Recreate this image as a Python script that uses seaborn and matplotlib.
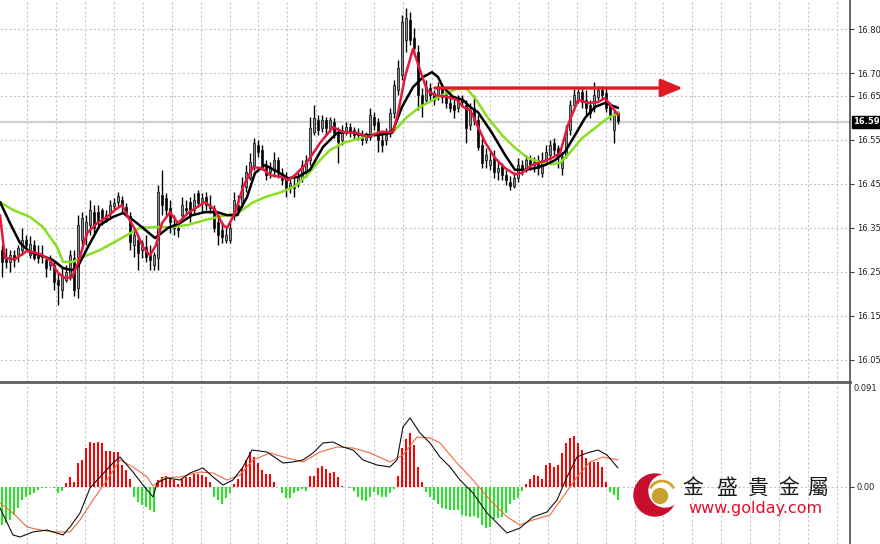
import numpy as np
import matplotlib
matplotlib.use('Agg')
import matplotlib.pyplot as plt
import matplotlib.transforms as mtransforms
from matplotlib.patches import Circle, Arc
import seaborn as sns

sns.set_style('white')
plt.rcParams['font.family'] = ['DejaVu Sans']

# ---- price bars (one per bar, oldest first) ----
opens = [16.299, 16.281, 16.272, 16.287, 16.287, 16.299, 16.322, 16.287, 16.310, 16.285,
         16.283, 16.276, 16.265, 16.265, 16.231, 16.208, 16.231, 16.242, 16.281, 16.213,
         16.322, 16.333, 16.356, 16.385, 16.385, 16.390, 16.378, 16.385, 16.399, 16.408,
         16.412, 16.397, 16.376, 16.310, 16.322, 16.299, 16.306, 16.287, 16.265, 16.281,
         16.424, 16.417, 16.394, 16.356, 16.349, 16.378, 16.394, 16.408, 16.390, 16.428,
         16.406, 16.419, 16.401, 16.394, 16.362, 16.344, 16.322, 16.322, 16.378, 16.401,
         16.406, 16.442, 16.462, 16.492, 16.537, 16.526, 16.492, 16.476, 16.481, 16.503,
         16.474, 16.462, 16.440, 16.447, 16.451, 16.462, 16.476, 16.503, 16.567, 16.594,
         16.576, 16.594, 16.576, 16.590, 16.567, 16.549, 16.567, 16.578, 16.572, 16.560,
         16.560, 16.549, 16.556, 16.601, 16.590, 16.549, 16.549, 16.572, 16.610, 16.662,
         16.697, 16.776, 16.822, 16.781, 16.749, 16.651, 16.640, 16.667, 16.656, 16.647,
         16.667, 16.651, 16.633, 16.628, 16.622, 16.640, 16.628, 16.583, 16.622, 16.594,
         16.537, 16.503, 16.492, 16.508, 16.476, 16.490, 16.469, 16.453, 16.444, 16.462,
         16.492, 16.481, 16.503, 16.492, 16.503, 16.474, 16.497, 16.515, 16.542, 16.531,
         16.485, 16.515, 16.572, 16.628, 16.640, 16.658, 16.640, 16.628, 16.622, 16.647,
         16.662, 16.656, 16.628, 16.572, 16.610]
highs = [16.310, 16.303, 16.299, 16.299, 16.310, 16.349, 16.333, 16.331, 16.322, 16.310,
         16.310, 16.283, 16.287, 16.272, 16.249, 16.258, 16.265, 16.299, 16.299, 16.378,
         16.385, 16.378, 16.412, 16.401, 16.401, 16.394, 16.390, 16.412, 16.417, 16.431,
         16.422, 16.406, 16.385, 16.351, 16.328, 16.322, 16.333, 16.310, 16.294, 16.447,
         16.481, 16.428, 16.412, 16.378, 16.362, 16.419, 16.412, 16.419, 16.428, 16.435,
         16.428, 16.431, 16.424, 16.401, 16.372, 16.362, 16.349, 16.362, 16.431, 16.424,
         16.465, 16.492, 16.519, 16.553, 16.549, 16.537, 16.503, 16.499, 16.522, 16.510,
         16.485, 16.476, 16.462, 16.465, 16.481, 16.503, 16.515, 16.601, 16.628, 16.606,
         16.606, 16.601, 16.601, 16.599, 16.578, 16.583, 16.590, 16.587, 16.578, 16.576,
         16.572, 16.567, 16.622, 16.612, 16.599, 16.572, 16.576, 16.622, 16.685, 16.731,
         16.833, 16.849, 16.840, 16.803, 16.765, 16.667, 16.685, 16.678, 16.662, 16.681,
         16.674, 16.662, 16.651, 16.647, 16.651, 16.651, 16.640, 16.633, 16.651, 16.606,
         16.553, 16.531, 16.526, 16.526, 16.503, 16.497, 16.481, 16.467, 16.476, 16.508,
         16.503, 16.515, 16.515, 16.510, 16.515, 16.522, 16.537, 16.549, 16.553, 16.537,
         16.522, 16.583, 16.640, 16.665, 16.665, 16.667, 16.662, 16.640, 16.681, 16.672,
         16.672, 16.667, 16.635, 16.617, 16.615]
lows = [16.237, 16.258, 16.249, 16.260, 16.272, 16.287, 16.299, 16.281, 16.276, 16.269,
        16.269, 16.237, 16.253, 16.208, 16.174, 16.190, 16.226, 16.231, 16.194, 16.190,
        16.299, 16.310, 16.333, 16.333, 16.356, 16.356, 16.362, 16.374, 16.390, 16.397,
        16.383, 16.374, 16.299, 16.283, 16.253, 16.281, 16.272, 16.253, 16.253, 16.253,
        16.378, 16.374, 16.337, 16.333, 16.328, 16.372, 16.378, 16.362, 16.383, 16.397,
        16.383, 16.390, 16.383, 16.340, 16.310, 16.315, 16.315, 16.315, 16.367, 16.378,
        16.397, 16.431, 16.458, 16.481, 16.510, 16.481, 16.458, 16.462, 16.465, 16.462,
        16.447, 16.419, 16.428, 16.419, 16.442, 16.453, 16.465, 16.492, 16.560, 16.560,
        16.567, 16.560, 16.567, 16.553, 16.497, 16.537, 16.560, 16.556, 16.549, 16.549,
        16.537, 16.542, 16.549, 16.572, 16.522, 16.522, 16.537, 16.556, 16.599, 16.651,
        16.685, 16.749, 16.765, 16.742, 16.617, 16.601, 16.633, 16.640, 16.628, 16.640,
        16.633, 16.622, 16.612, 16.599, 16.612, 16.624, 16.542, 16.572, 16.583, 16.526,
        16.485, 16.485, 16.481, 16.462, 16.458, 16.458, 16.447, 16.435, 16.440, 16.453,
        16.469, 16.476, 16.481, 16.476, 16.469, 16.465, 16.492, 16.503, 16.515, 16.485,
        16.469, 16.508, 16.560, 16.617, 16.633, 16.622, 16.606, 16.599, 16.612, 16.640,
        16.640, 16.612, 16.594, 16.542, 16.585]
closes = [16.272, 16.272, 16.287, 16.276, 16.303, 16.322, 16.310, 16.312, 16.281, 16.281,
          16.287, 16.258, 16.272, 16.226, 16.219, 16.242, 16.249, 16.287, 16.208, 16.356,
          16.372, 16.362, 16.390, 16.349, 16.362, 16.372, 16.367, 16.401, 16.406, 16.422,
          16.399, 16.378, 16.317, 16.333, 16.292, 16.315, 16.283, 16.276, 16.287, 16.431,
          16.401, 16.390, 16.362, 16.349, 16.344, 16.401, 16.390, 16.378, 16.412, 16.406,
          16.417, 16.401, 16.394, 16.349, 16.333, 16.328, 16.333, 16.349, 16.412, 16.390,
          16.447, 16.476, 16.499, 16.542, 16.522, 16.492, 16.469, 16.485, 16.503, 16.476,
          16.458, 16.440, 16.451, 16.440, 16.467, 16.492, 16.503, 16.576, 16.599, 16.572,
          16.594, 16.576, 16.594, 16.565, 16.544, 16.572, 16.578, 16.567, 16.560, 16.565,
          16.549, 16.556, 16.606, 16.583, 16.549, 16.537, 16.560, 16.610, 16.674, 16.712,
          16.817, 16.826, 16.776, 16.758, 16.651, 16.628, 16.669, 16.651, 16.640, 16.667,
          16.647, 16.633, 16.622, 16.617, 16.640, 16.635, 16.576, 16.617, 16.594, 16.533,
          16.497, 16.515, 16.503, 16.476, 16.485, 16.469, 16.458, 16.444, 16.462, 16.492,
          16.481, 16.503, 16.492, 16.499, 16.485, 16.503, 16.522, 16.537, 16.526, 16.510,
          16.510, 16.572, 16.628, 16.651, 16.658, 16.635, 16.622, 16.610, 16.651, 16.662,
          16.651, 16.622, 16.606, 16.606, 16.592]

# ---- moving averages (bar position, price) ----
fast_idx = [-0.5, 0.75, 3.25, 6.25, 9.5, 12, 14, 15.75, 17.5, 19, 21.25, 23.75, 26.25, 28.25,
            30, 31.5, 33.75, 35.25, 37, 38.5, 40, 42, 44, 46.5, 50.75, 53.25, 55.25, 56.25,
            58.25, 60.25, 62.75, 65, 67, 70, 71.5, 73.25, 75.75, 77.5, 79.5, 82.75, 85.25,
            88.75, 91.5, 94.5, 97.75, 99, 100.75, 102.75, 104.5, 106.25, 108.25, 111.25,
            113.75, 115.25, 117, 118.25, 120.75, 123.25, 125.75, 128.25, 130, 132.5, 135,
            137.5, 139.5, 141.5, 144, 146.5, 149, 150.75, 152.5, 154]
fast_val = [16.378, 16.281, 16.278, 16.297, 16.290, 16.276, 16.247, 16.235, 16.237, 16.269,
            16.337, 16.360, 16.374, 16.390, 16.401, 16.374, 16.337, 16.306, 16.287, 16.310,
            16.360, 16.385, 16.360, 16.383, 16.408, 16.390, 16.356, 16.349, 16.383, 16.442,
            16.487, 16.485, 16.469, 16.465, 16.458, 16.469, 16.492, 16.515, 16.542, 16.578,
            16.567, 16.565, 16.556, 16.567, 16.567, 16.610, 16.692, 16.756, 16.708, 16.662,
            16.651, 16.647, 16.640, 16.624, 16.617, 16.594, 16.544, 16.508, 16.485, 16.471,
            16.474, 16.492, 16.499, 16.508, 16.519, 16.583, 16.640, 16.633, 16.635, 16.644,
            16.624, 16.606]
mid_idx = [-0.5, 2, 4.5, 7, 10.25, 12.75, 15.25, 17.5, 19, 21.5, 24.5, 27.75, 30.25, 32.75,
           35.25, 38.25, 41.5, 44.5, 47.5, 50.75, 53.75, 56.25, 58.75, 61.25, 63.25, 65.75,
           69, 71.5, 74, 77, 80.25, 83.75, 87, 90.25, 93.75, 97.5, 100, 102.75, 105.25, 107.5,
           109, 110.25, 112.75, 115.25, 117, 119, 122.5, 125.75, 128.25, 130.75, 133.25,
           135.75, 138.25, 140.75, 143.25, 145.75, 148.25, 150.75, 154]
mid_val = [16.408, 16.360, 16.315, 16.294, 16.285, 16.276, 16.258, 16.253, 16.262, 16.306,
           16.356, 16.374, 16.383, 16.367, 16.349, 16.326, 16.349, 16.360, 16.378, 16.385,
           16.385, 16.378, 16.378, 16.419, 16.474, 16.492, 16.476, 16.462, 16.465, 16.481,
           16.533, 16.565, 16.567, 16.560, 16.560, 16.565, 16.624, 16.669, 16.692, 16.703,
           16.692, 16.669, 16.647, 16.640, 16.624, 16.612, 16.565, 16.515, 16.481, 16.481,
           16.485, 16.492, 16.503, 16.522, 16.560, 16.599, 16.624, 16.633, 16.622]
slow_idx = [-0.5, 2.75, 7, 10.25, 13.75, 15.25, 17.75, 21.25, 24.5, 27.75, 31.25, 34.5, 38.25,
            42.5, 46.5, 50.75, 55, 59, 62.5, 65.75, 70, 73.25, 76.5, 79.5, 82, 85.25, 89.5,
            93.75, 97.75, 101.25, 104.5, 107.75, 111.25, 113.75, 116.25, 118.25, 121.5, 125,
            128.25, 131.5, 135, 137.5, 139.5, 141.5, 145, 148.25, 151.5, 154]
slow_val = [16.408, 16.390, 16.374, 16.351, 16.306, 16.272, 16.272, 16.287, 16.299, 16.315,
            16.333, 16.349, 16.351, 16.351, 16.356, 16.367, 16.376, 16.383, 16.406, 16.419,
            16.431, 16.444, 16.471, 16.503, 16.526, 16.542, 16.553, 16.565, 16.567, 16.601,
            16.624, 16.640, 16.656, 16.665, 16.665, 16.644, 16.599, 16.560, 16.531, 16.508,
            16.497, 16.494, 16.497, 16.515, 16.553, 16.576, 16.599, 16.610]

# ---- MACD panel ----
hist = [-0.034, -0.032, -0.0295, -0.025, -0.019, -0.0118, -0.0089, -0.0074, -0.0056, -0.003,
        -0.0015, -0.0008, -0.0005, -0.0015, -0.0056, -0.004, 0.003, 0.0083, 0.004, 0.0207,
        0.0237, 0.034, 0.040, 0.039, 0.040, 0.0385, 0.0316, 0.0316, 0.031, 0.031,
        0.0192, 0.015, 0.0065, -0.0089, -0.0133, -0.0162, -0.018, -0.0207, -0.022, 0.006,
        0.0083, 0.0095, 0.0083, 0.006, 0.002, 0.0065, 0.0083, 0.009, 0.011, 0.011,
        0.010, 0.0083, 0.004, -0.0089, -0.0118, -0.015, -0.010, -0.0056, 0.0024, 0.0068,
        0.0163, 0.0237, 0.031, 0.0266, 0.0207, 0.015, 0.011, 0.011, 0.004, -0.0005,
        -0.0056, -0.0104, -0.0104, -0.0056, -0.0035, -0.0018, -0.0035, 0.0097, 0.0097, 0.0163,
        0.018, 0.016, 0.0124, 0.013, 0.0083, 0.0005, -0.0005, -0.001, -0.0035, -0.0089,
        -0.0118, -0.0124, -0.0089, -0.0045, -0.0074, -0.0089, -0.0089, -0.0056, -0.0018, 0.0097,
        0.034, 0.042, 0.0473, 0.037, 0.017, 0.004, -0.0045, -0.0089, -0.0118, -0.015,
        -0.0192, -0.020, -0.0207, -0.021, -0.0207, -0.025, -0.026, -0.0266, -0.026, -0.028,
        -0.034, -0.0369, -0.0355, -0.029, -0.028, -0.0266, -0.0236, -0.015, -0.0118, -0.0104,
        -0.0035, 0.0024, 0.0068, 0.0106, 0.0097, 0.0068, 0.0192, 0.0207, 0.017, 0.0192,
        0.0296, 0.0384, 0.0428, 0.045, 0.0384, 0.0325, 0.025, 0.022, 0.022, 0.022,
        0.0177, 0.004, -0.0045, -0.0074, -0.0118]
macd_idx = [-0.5, 2.75, 4.5, 7.75, 11.25, 15.25, 17, 19.5, 22, 24.5, 27.75, 29.5, 32.75, 35.25,
            37.75, 38.75, 41.25, 44.5, 47, 50.25, 52.75, 55.25, 57.75, 60.25, 62.5, 66.25,
            70.25, 72.75, 75.25, 77.75, 80.25, 82.75, 85.25, 87.75, 90.25, 93.75, 97, 98.75,
            100.25, 102, 104.5, 107, 109.5, 112, 114.5, 117.75, 121.25, 126.25, 129.5,
            132.75, 136.25, 138.75, 141.25, 143.75, 146.25, 149, 151.25, 154]
macd_val = [-0.0189, -0.0428, -0.0446, -0.0401, -0.0384, -0.0428, -0.0357, -0.0233, -0.0012,
            0.0086, 0.0210, 0.0263, 0.0130, 0.0015, -0.0091, 0.0033, 0.0077, 0.0059, 0.0121,
            0.0166, 0.0086, 0.0015, 0.0059, 0.0175, 0.0325, 0.0307, 0.0210, 0.0219, 0.0237,
            0.0299, 0.0387, 0.0396, 0.0352, 0.0325, 0.0237, 0.0192, 0.0175, 0.0237, 0.0529,
            0.0609, 0.0476, 0.0387, 0.0263, 0.0175, 0.0059, -0.0056, -0.0233, -0.0410,
            -0.0366, -0.0268, -0.0224, -0.0118, 0.0086, 0.0263, 0.0299, 0.0325, 0.0281, 0.0166]
sig_idx = [-0.5, 2.75, 6.25, 9.5, 12.75, 17, 19.5, 22.75, 26.25, 29.5, 32.75, 36.25, 37.75,
           40.25, 44.5, 49.5, 52.75, 56.25, 59.5, 62.75, 67, 71.25, 75.25, 79.5, 83.75, 87.75,
           92, 97, 100.25, 103.75, 107, 109.5, 113.75, 117.75, 122, 126.25, 129.5, 132.75,
           137, 140.25, 143.75, 147, 150.25, 154]
sig_val = [-0.0144, -0.0233, -0.0357, -0.0384, -0.0401, -0.0401, -0.0295, -0.0118, 0.0059,
           0.0237, 0.0175, 0.0086, 0.0006, 0.0077, 0.0086, 0.0130, 0.0121, 0.0059, 0.0104,
           0.0237, 0.0299, 0.0254, 0.0219, 0.0307, 0.0352, 0.0343, 0.0299, 0.0219, 0.0281,
           0.0440, 0.0432, 0.0387, 0.0210, 0.0059, -0.0118, -0.0268, -0.0339, -0.0295,
           -0.0251, -0.0091, 0.0086, 0.0219, 0.0263, 0.0237]

price_ticks = [16.05, 16.15, 16.25, 16.35, 16.45, 16.55, 16.65, 16.70, 16.80]
last_price = 16.59
resistance = 16.667
macd_top = 0.091

o = np.array(opens)
h = np.array(highs)
l = np.array(lows)
c = np.array(closes)
hist = np.array(hist)
bars = np.arange(len(c))

W, H = 880, 544
fig = plt.figure(figsize=(W / 100, H / 100), dpi=100)
ax = fig.add_axes([0, 1 - 382 / H, 850 / W, 382 / H])
ax2 = fig.add_axes([0, 0, 850 / W, 160 / H])

# MT4 style dotted grid
grid_x = (27 + 28.93 * np.arange(29) - 2) / 4
grid_kw = dict(color='#c6c6c6', lw=0.8, ls=(0, (2, 2)), zorder=0)
for a in (ax, ax2):
    for gx in grid_x:
        a.axvline(gx, **grid_kw)
for t in price_ticks:
    ax.axhline(t, **grid_kw)
ax2.axhline(0, **grid_kw)
ax.axhline(last_price, color='#d0d0d0', lw=1.6, zorder=0.5)

# candles
up = c >= o
ax.vlines(bars, l, h, color='black', lw=1, zorder=2)
ax.bar(bars, np.maximum(np.abs(c - o), 0.0015), bottom=np.minimum(o, c), width=0.72,
       color=np.where(up, '#8c8c8c', '#000000'), edgecolor='#202020', linewidth=0.6, zorder=3)

line_kw = dict(ax=ax, estimator=None, sort=False, legend=False)
sns.lineplot(x=slow_idx, y=slow_val, color='#86e01e', lw=1.8, zorder=4, **line_kw)
sns.lineplot(x=mid_idx, y=mid_val, color='#000000', lw=1.8, zorder=5, **line_kw)
sns.lineplot(x=fast_idx, y=fast_val, color='#e8173e', lw=1.8, zorder=6, **line_kw)

ax.annotate('', xy=(170.25, resistance), xytext=(108.25, resistance), zorder=7,
            arrowprops=dict(arrowstyle='-|>,head_length=1.1,head_width=0.45', color='#e01a22',
                            lw=2.4, mutation_scale=12, shrinkA=0, shrinkB=0))

ax.set_xlim(-0.5, 212)
ax.set_ylim(15.999, 16.867)
ax.set_xticks([])
ax.yaxis.tick_right()
ax.set_yticks(price_ticks)
ax.set_yticklabels([f'{t:.2f}' for t in price_ticks])
ax.tick_params(axis='y', length=3, width=0.8, color='#404040', labelsize=6,
               labelcolor='#222222', pad=2)
for s in ('top', 'left'):
    ax.spines[s].set_visible(False)
ax.spines['right'].set_color('#4a4a4a')
ax.spines['right'].set_linewidth(1.2)
ax.spines['bottom'].set_color('#5e5e5e')
ax.spines['bottom'].set_linewidth(2)

trans = mtransforms.blended_transform_factory(ax.transAxes, ax.transData)
ax.text(1.004, last_price, f'{last_price:.2f}', transform=trans, ha='left', va='center',
        fontsize=6, color='white', fontweight='bold',
        bbox=dict(boxstyle='square,pad=0.2', fc='black', ec='black'))

# MACD
ax2.bar(bars, hist, width=0.72, color=np.where(hist >= 0, '#ff0000', '#22e622'),
        linewidth=0, zorder=2)
line_kw2 = dict(ax=ax2, estimator=None, sort=False, legend=False)
sns.lineplot(x=sig_idx, y=sig_val, color='#f0693c', lw=0.8, zorder=3, **line_kw2)
sns.lineplot(x=macd_idx, y=macd_val, color='#101010', lw=0.8, zorder=4, **line_kw2)
ax2.set_xlim(-0.5, 212)
ax2.set_ylim(-0.0508, macd_top)
ax2.set_xticks([])
ax2.yaxis.tick_right()
ax2.set_yticks([0])
ax2.set_yticklabels(['0.00'])
ax2.tick_params(axis='y', length=3, width=0.8, color='#404040', labelsize=6,
                labelcolor='#222222', pad=2)
for s in ('top', 'left', 'bottom'):
    ax2.spines[s].set_visible(False)
ax2.spines['right'].set_color('#4a4a4a')
ax2.spines['right'].set_linewidth(1.2)
trans2 = mtransforms.blended_transform_factory(ax2.transAxes, ax2.transData)
ax2.text(1.004, macd_top, f'{macd_top:.3f}', transform=trans2, ha='left', va='top',
         fontsize=6, color='#222222')

# watermark logo
lg = fig.add_axes([0, 0, 1, 1], zorder=10)
lg.set_xlim(0, W)
lg.set_ylim(H, 0)
lg.axis('off')
lg.add_patch(Circle((655, 495), 21, color='#c8102e'))
lg.add_patch(Circle((665, 491), 16, color='white'))
lg.add_patch(Arc((662, 494), 26, 26, theta1=205, theta2=335, color='#d4a52c', lw=2))
lg.add_patch(Circle((660, 496), 7.5, color='#c9a02a'))
for xc, ch in zip([693, 727, 758, 789, 818], '金盛貴金屬'):
    lg.text(xc, 487.5, ch, fontsize=15, ha='center', va='center', color='#1a1a1a',
            family=['Noto Sans CJK TC', 'DejaVu Sans'])
lg.text(755, 508, 'www.golday.com', fontsize=11.5, ha='center', va='center', color='#e0102a')

fig.savefig('out.png', dpi=100, facecolor='white')
